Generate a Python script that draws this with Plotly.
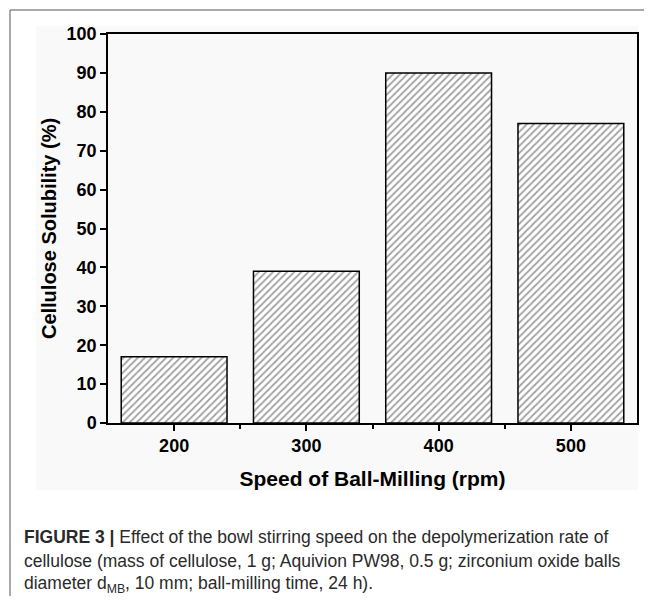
import plotly.graph_objects as go

speeds = [200, 300, 400, 500]
solubility = [17, 39, 90, 77]
y_ticks = [0, 10, 20, 30, 40, 50, 60, 70, 80, 90, 100]

# page body has an 8px margin; work in page coordinates and shift
O = 8
W, H = 652 - O, 604 - 2 * O
L, R, T, B = 108 - O, 637 - O, 34 - O, 423 - O

def px(x):
    return (x - O - L) / (R - L)

def py(y):
    return (B - (y - O)) / (B - T)

fig = go.Figure()
fig.add_trace(go.Bar(
    x=speeds, y=solubility, width=80,
    marker=dict(color="white", line=dict(color="black", width=1.5),
                pattern=dict(shape="/", fgcolor="#444", bgcolor="white", size=5, solidity=0.35)),
))

font_t = dict(family="Liberation Sans, Arial", size=18, color="black")

fig.update_layout(
    width=W, height=H,
    margin=dict(l=L, r=W - R, t=T, b=H - B),
    paper_bgcolor="white", plot_bgcolor="rgba(0,0,0,0)",
    showlegend=False,
    xaxis=dict(range=[150, 550], tickvals=speeds, ticktext=[f"<b>{s}</b>" for s in speeds],
               ticks="outside", ticklen=6, tickwidth=1.5, tickcolor="black",
               minor=dict(tickvals=[250, 350, 450], ticks="outside", ticklen=4, tickwidth=1.5, tickcolor="black"),
               showline=True, linecolor="black", linewidth=1.5, mirror=True,
               showgrid=False, zeroline=False, tickfont=font_t,
               title=dict(text="<b>Speed of Ball-Milling (rpm)</b>",
                          font=dict(family="Liberation Sans, Arial", size=21, color="black"), standoff=16)),
    yaxis=dict(range=[0, 100], tickvals=y_ticks, ticktext=[f"<b>{v}</b>" for v in y_ticks],
               ticks="outside", ticklen=6, tickwidth=1.5, tickcolor="black",
               showline=True, linecolor="black", linewidth=1.5, mirror=True,
               showgrid=False, zeroline=False, tickfont=font_t,
               title=dict(text="<b>Cellulose Solubility (%)</b>",
                          font=dict(family="Liberation Sans, Arial", size=20, color="black"), standoff=5)),
)

# outer figure frame and light grey chart background
fig.add_shape(type="rect", xref="paper", yref="paper", x0=px(10), x1=px(670), y0=py(640), y1=py(10),
              line=dict(color="#555", width=1), fillcolor="rgba(0,0,0,0)", layer="below")
fig.add_shape(type="rect", xref="paper", yref="paper", x0=px(36), x1=px(638), y0=py(490), y1=py(26),
              line=dict(width=0), fillcolor="#f9f9f9", layer="below")

caption = [
    "<b>FIGURE 3 |</b> Effect of the bowl stirring speed on the depolymerization rate of",
    "cellulose (mass of cellulose, 1 g; Aquivion PW98, 0.5 g; zirconium oxide balls",
    "diameter d<sub>MB</sub>, 10 mm; ball-milling time, 24 h).",
]
for i, line in enumerate(caption):
    fig.add_annotation(xref="paper", yref="paper", x=px(22), y=py(537 + 23.5 * i),
                       xanchor="left", yanchor="middle", showarrow=False, text=line,
                       font=dict(family="Liberation Sans", size=17.5, color="#2a2a2a"))

fig.write_html("out.html")
